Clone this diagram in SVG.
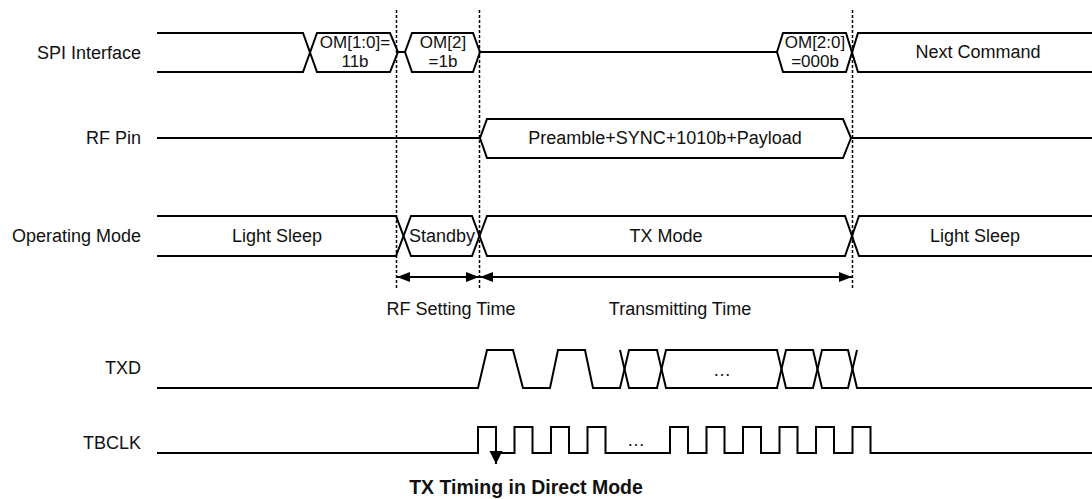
<svg xmlns="http://www.w3.org/2000/svg" width="1092" height="499" viewBox="0 0 1092 499">
<style>
.sig{fill:none;stroke:#000;stroke-width:2;stroke-linejoin:miter}
.dot{fill:none;stroke:#000;stroke-width:1.5;stroke-dasharray:3,2}
.lbl{font-family:"Liberation Sans",Arial,sans-serif;font-size:18px;fill:#111}
.sm{font-family:"Liberation Sans",Arial,sans-serif;font-size:17px;fill:#111}
.ttl{font-family:"Liberation Sans",Arial,sans-serif;font-size:19.5px;font-weight:bold;fill:#111}
.dim{fill:none;stroke:#000;stroke-width:2}
</style>
<defs>
<marker id="ah" markerUnits="userSpaceOnUse" markerWidth="14" markerHeight="12" refX="13" refY="6" orient="auto-start-reverse">
<path d="M0,1 L13,6 L0,11 Z" fill="#000"/>
</marker>
<marker id="ahd" markerUnits="userSpaceOnUse" markerWidth="14" markerHeight="14" refX="13" refY="7" orient="auto">
<path d="M0,0.5 L13,7 L0,13.5 Z" fill="#000"/>
</marker>
</defs>
<rect width="1092" height="499" fill="#fff"/>

<g id="labels">
<text class="lbl" x="141" y="59" text-anchor="end">SPI Interface</text>
<text class="lbl" x="141" y="144" text-anchor="end">RF Pin</text>
<text class="lbl" x="141" y="242" text-anchor="end">Operating Mode</text>
<text class="lbl" x="141" y="374" text-anchor="end">TXD</text>
<text class="lbl" x="141" y="449" text-anchor="end">TBCLK</text>
</g>

<g id="guides">
<line class="dot" x1="396.5" y1="10" x2="396.5" y2="290"/>
<line class="dot" x1="479.5" y1="10" x2="479.5" y2="290"/>
<line class="dot" x1="852.5" y1="10" x2="852.5" y2="290"/>
</g>

<g id="spi">
<path class="sig" d="M157,33 H303 L317,72 H390 L398,52 H405 L412,33 H473 L480,52 H777 L783,33 H846 L858,72 H1092"/>
<path class="sig" d="M157,72 H303 L317,33 H390 L398,52 M405,52 L412,72 H473 L480,52 M777,52 L783,72 H846 L858,33 H1092"/>
<text class="sm" x="355" y="48" text-anchor="middle">OM[1:0]=</text>
<text class="sm" x="355" y="67" text-anchor="middle">11b</text>
<text class="sm" x="443" y="48" text-anchor="middle">OM[2]</text>
<text class="sm" x="443" y="67" text-anchor="middle">=1b</text>
<text class="sm" x="815" y="48" text-anchor="middle">OM[2:0]</text>
<text class="sm" x="815" y="67" text-anchor="middle">=000b</text>
<text class="lbl" x="978" y="58" text-anchor="middle">Next Command</text>
</g>

<g id="rfpin">
<path class="sig" d="M157,138 H480 L487,119 H843 L851,138 H1092"/>
<path class="sig" d="M480,138 L487,158 H843 L851,138"/>
<text class="lbl" x="665" y="144" text-anchor="middle">Preamble+SYNC+1010b+Payload</text>
</g>

<g id="opmode">
<path class="sig" d="M157,216 H396 L411,256 H472 L487,216 H845 L859,256 H1092"/>
<path class="sig" d="M157,256 H396 L411,216 H472 L487,256 H845 L859,216 H1092"/>
<text class="lbl" x="277" y="242" text-anchor="middle">Light Sleep</text>
<text class="lbl" x="442" y="242" text-anchor="middle">Standby</text>
<text class="lbl" x="666" y="242" text-anchor="middle">TX Mode</text>
<text class="lbl" x="975" y="242" text-anchor="middle">Light Sleep</text>
</g>

<g id="connectors">
<line class="dim" x1="397" y1="277" x2="479" y2="277" marker-start="url(#ah)" marker-end="url(#ah)"/>
<line class="dim" x1="480" y1="277" x2="852" y2="277" marker-start="url(#ah)" marker-end="url(#ah)"/>
<line class="dim" x1="496" y1="427" x2="496" y2="464" marker-end="url(#ahd)"/>
</g>

<g id="timing-labels">
<text class="lbl" x="451" y="315" text-anchor="middle">RF Setting Time</text>
<text class="lbl" x="680" y="315" text-anchor="middle">Transmitting Time</text>
</g>

<g id="txd">
<path class="sig" d="M157,388 H478 L487,350 H513 L523,388 H550 L558,350 H585 L593,388 H620 L629,350 H657 L666,388 H777 L786,350 H813 L822,388 H848 L857,350"/>
<path class="sig" d="M620,350 L629,388 H657 L666,350 H777 L786,388 H813 L822,350 H848 L857,388 H1092"/>
<text class="lbl" x="722" y="376" text-anchor="middle">…</text>
</g>

<g id="tbclk">
<path class="sig" d="M157,453 H478 V427 H496 V453 H514.5 V427 H532.5 V453 H551 V427 H569 V453 H587.5 V427 H605.5 V453 H670 V427 H688 V453 H706.5 V427 H724.5 V453 H743 V427 H761 V453 H779.5 V427 H797.5 V453 H816 V427 H834 V453 H852.5 V427 H870.5 V453 H1092"/>
<text class="lbl" x="636" y="446" text-anchor="middle">…</text>
</g>

<g id="title">
<text class="ttl" x="526" y="494" text-anchor="middle">TX Timing in Direct Mode</text>
</g>
</svg>
